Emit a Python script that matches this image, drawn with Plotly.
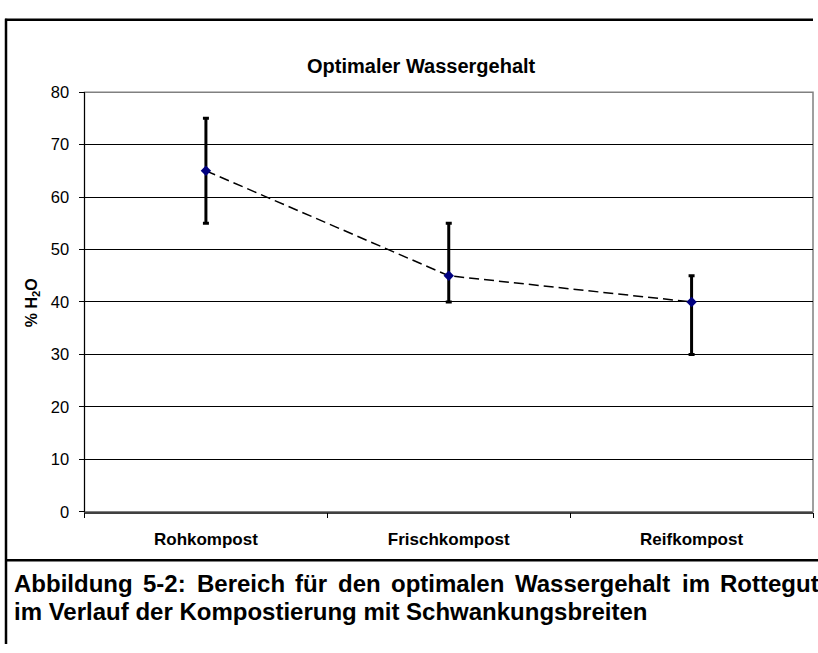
import plotly.graph_objects as go

categories = ["Rohkompost", "Frischkompost", "Reifkompost"]
optimum = [65, 45, 40]
upper = [75, 55, 45]
lower = [55, 40, 30]
y_ticks = [0, 10, 20, 30, 40, 50, 60, 70, 80]

err_plus = [u - v for u, v in zip(upper, optimum)]
err_minus = [v - l for v, l in zip(optimum, lower)]

W, H = 818, 653
def px(x):
    return x / W
def py(y):
    return 1 - y / H

L, R, T, B = 84.5, 813.0, 85.5, 517.0
FONT = "Arial, Liberation Sans, sans-serif"

fig = go.Figure()
fig.add_trace(go.Scatter(
    x=categories, y=optimum, mode="lines+markers",
    line=dict(color="black", width=1.5, dash="10px,5px"),
    marker=dict(symbol="diamond", size=8, color="#000080"),
    error_y=dict(type="data", symmetric=False, array=err_plus, arrayminus=err_minus,
                 color="black", thickness=3, width=3),
    showlegend=False, cliponaxis=False,
))

shapes = [
    dict(type="rect", xref="paper", yref="paper", x0=px(L), x1=px(R), y0=py(B), y1=py(T),
         line=dict(color="#808080", width=1.5), layer="below"),
    dict(type="line", xref="paper", yref="paper", x0=px(5), x1=px(813), y0=py(11), y1=py(11),
         line=dict(color="black", width=2.5)),
    dict(type="line", xref="paper", yref="paper", x0=px(6), x1=px(6), y0=py(10), y1=py(653),
         line=dict(color="black", width=2.5)),
    dict(type="line", xref="paper", yref="paper", x0=px(5), x1=px(818), y0=py(567), y1=py(567),
         line=dict(color="black", width=2.5)),
]

annotations = [
    dict(text="<b>Optimaler Wassergehalt</b>", xref="paper", yref="paper",
         x=px(305), y=py(59), xanchor="left", yanchor="middle", showarrow=False,
         font=dict(family=FONT, size=20, color="black")),
    dict(text="<b>% H<sub>2</sub>O</b>", xref="paper", yref="paper",
         x=px(32.5), y=py(302), xanchor="center", yanchor="middle", showarrow=False,
         textangle=-90, font=dict(family=FONT, size=16, color="black")),
]

line1 = ["Abbildung", "5-2:", "Bereich", "für", "den", "optimalen", "Wassergehalt", "im", "Rottegut"]
em = {"Abbildung": 4.944, "5-2:": 1.778, "Bereich": 3.668, "für": 1.333, "den": 1.778,
      "optimalen": 4.723, "Wassergehalt": 6.502, "im": 1.167, "Rottegut": 4.11}
cap_size = 24
x_start, x_end = 12, 817
total = sum(em[w] for w in line1) * cap_size
gap = (x_end - x_start - total) / (len(line1) - 1)
xpos = x_start
for w in line1:
    annotations.append(dict(text="<b>" + w + "</b>", xref="paper", yref="paper",
                            x=px(xpos), y=py(591), xanchor="left", yanchor="middle",
                            showarrow=False, font=dict(family=FONT, size=cap_size, color="black")))
    xpos += em[w] * cap_size + gap
annotations.append(dict(text="<b>im Verlauf der Kompostierung mit Schwankungsbreiten</b>",
                        xref="paper", yref="paper", x=px(12), y=py(620), xanchor="left",
                        yanchor="middle", showarrow=False,
                        font=dict(family=FONT, size=cap_size, color="black")))

fig.update_layout(
    width=W, height=H, margin=dict(l=0, r=0, t=0, b=0),
    paper_bgcolor="white", plot_bgcolor="white",
    shapes=shapes, annotations=annotations,
    xaxis=dict(domain=[px(L), px(R)], type="category", range=[-0.5, 2.5],
               tickson="boundaries", ticks="outside", ticklen=5, tickcolor="black",
               showgrid=False, showline=True, linecolor="#404040", linewidth=1.5,
               tickfont=dict(family=FONT, size=17, color="black"),
               tickvals=categories, ticktext=["<b>" + c + "</b>" for c in categories],
               ticklabelstandoff=11, zeroline=False),
    yaxis=dict(domain=[py(B), py(T)], range=[0, 80], tickvals=y_ticks,
               ticks="outside", ticklen=5, tickcolor="black",
               showgrid=True, gridcolor="black", gridwidth=1,
               showline=True, linecolor="black", linewidth=1, zeroline=False,
               tickfont=dict(family=FONT, size=16.5, color="black"),
               ticklabelstandoff=6),
)

fig.write_html("out.html", config={"displayModeBar": False},
               post_script="document.body.style.margin='0';document.body.style.overflow='hidden';")
